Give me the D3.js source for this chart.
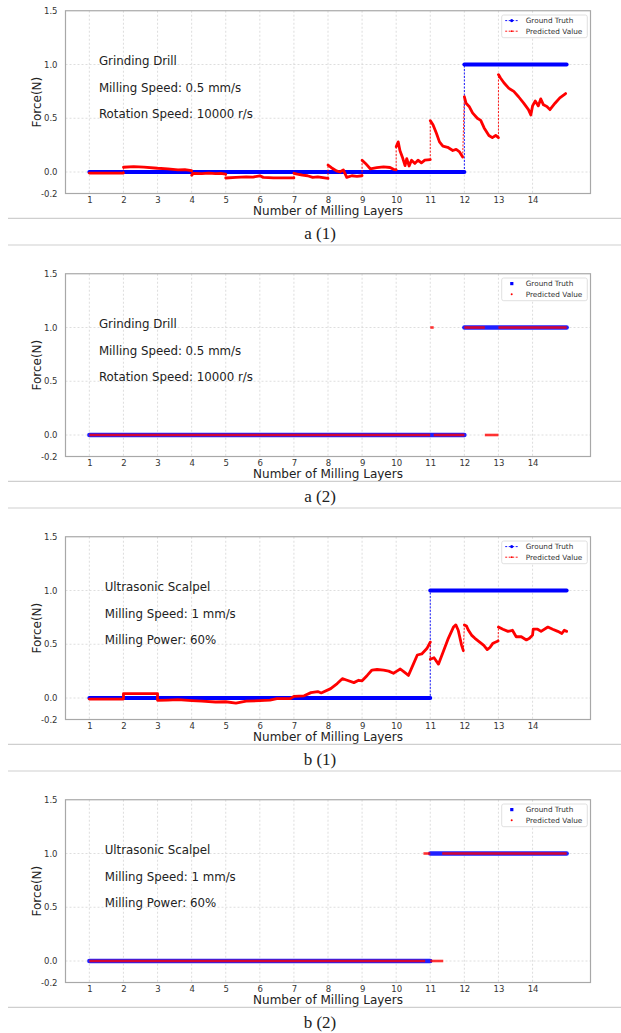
<!DOCTYPE html>
<html>
<head>
<meta charset="utf-8">
<script src="https://d3js.org/d3.v7.min.js"></script>
<style>
  body { margin: 0; background: #fff; }
  svg text { font-family: "DejaVu Sans", sans-serif; }
  svg text.caption { font-family: "Liberation Serif", "Times New Roman", serif; }
</style>
</head>
<body>
<div id="chart"></div>
<script>
// ---- data ----
const xTicks = [1, 2, 3, 4, 5, 6, 7, 8, 9, 10, 11, 12, 13, 14];
const yTicks = [-0.2, 0, 0.5, 1, 1.5];
const yTickLabels = ["-0.2", "0.0", "0.5", "1.0", "1.5"];
const captions = ["a (1)", "a (2)", "b (1)", "b (2)"];
const drillNotes = ["Grinding Drill", "Milling Speed: 0.5 mm/s", "Rotation Speed: 10000 r/s"];
const scalpelNotes = ["Ultrasonic Scalpel", "Milling Speed: 1 mm/s", "Milling Power: 60%"];
const legendLabels = ["Ground Truth", "Predicted Value"];

// ground truth runs: [from layer, to layer, force]
const a1Truth = [[1, 12, 0], [12, 15, 1]];
const b1Truth = [[1, 11, 0], [11, 15, 1]];
const a2Truth = [[1, 12, 0], [12, 15, 1]];
const b2Truth = [[1, 11, 0], [11, 15, 1]];

// predicted force, one piece per milling layer block: [layer, force]
const a1Pred = [
  [[1, -0.01], [2, -0.01]],
  [[2, 0.044], [2.3, 0.05], [2.6, 0.045], [3, 0.035], [3.3, 0.03], [3.6, 0.02], [3.8, 0.022], [4, 0.012]],
  [[4, -0.03], [4.05, -0.012], [4.3, -0.015], [4.5, -0.01], [4.7, -0.015], [4.85, -0.012], [5, -0.02]],
  [[5, -0.056], [5.3, -0.05], [5.6, -0.045], [5.8, -0.047], [6, -0.035], [6.1, -0.05], [6.4, -0.055], [7, -0.055]],
  [[7, -0.012], [7.1, -0.02], [7.25, -0.03], [7.4, -0.035], [7.55, -0.05], [7.7, -0.045], [7.8, -0.05], [8, -0.06]],
  [[8, 0.065], [8.1, 0.04], [8.25, 0.01], [8.35, 0], [8.45, 0.02], [8.55, -0.05], [8.7, -0.035], [8.85, -0.04], [9, -0.035]],
  [[9, 0.11], [9.1, 0.08], [9.24, 0.03], [9.43, 0.04], [9.63, 0.047], [9.82, 0.042], [9.92, 0.025], [10, 0.02]],
  [[10, 0.235], [10.06, 0.28], [10.11, 0.2], [10.18, 0.14], [10.26, 0.06], [10.31, 0.125], [10.38, 0.056], [10.45, 0.11],
   [10.55, 0.08], [10.64, 0.11], [10.74, 0.085], [10.84, 0.11], [11, 0.115]],
  [[11, 0.478], [11.08, 0.44], [11.18, 0.36], [11.27, 0.28], [11.37, 0.24], [11.51, 0.23], [11.66, 0.2], [11.76, 0.21],
   [11.85, 0.19], [11.95, 0.14]],
  [[12, 0.7], [12.05, 0.64], [12.14, 0.61], [12.24, 0.55], [12.38, 0.5], [12.48, 0.48], [12.58, 0.41], [12.72, 0.34],
   [12.82, 0.32], [12.92, 0.34], [13, 0.32]],
  [[13, 0.906], [13.06, 0.875], [13.16, 0.83], [13.3, 0.78], [13.45, 0.75], [13.59, 0.7], [13.74, 0.64], [13.88, 0.58],
   [13.95, 0.53], [14, 0.615], [14.08, 0.66], [14.17, 0.615], [14.24, 0.68], [14.32, 0.625], [14.42, 0.61], [14.51, 0.58],
   [14.66, 0.64], [14.8, 0.69], [14.97, 0.73]]
];

const b1Pred = [
  [[1, -0.01], [2, -0.01], [2, 0.04], [3, 0.04], [3, -0.022], [3.3, -0.02], [3.6, -0.016], [4, -0.025], [4.3, -0.03],
   [4.7, -0.037], [5, -0.035], [5.3, -0.047], [5.6, -0.03], [6, -0.025], [6.3, -0.02], [6.5, -0.006], [6.9, -0.005],
   [7, 0.015], [7.3, 0.02], [7.5, 0.05], [7.7, 0.06], [7.8, 0.047], [8.08, 0.087], [8.27, 0.134], [8.42, 0.18],
   [8.56, 0.165], [8.76, 0.143], [8.9, 0.165], [9, 0.16], [9.15, 0.21], [9.29, 0.26], [9.44, 0.265], [9.63, 0.26],
   [9.78, 0.25], [9.92, 0.23], [10.02, 0.25], [10.12, 0.27], [10.24, 0.24], [10.36, 0.21], [10.51, 0.32], [10.62, 0.4],
   [10.75, 0.41], [10.9, 0.46], [11, 0.52]],
  [[11, 0.36], [11.11, 0.375], [11.24, 0.315], [11.38, 0.43], [11.53, 0.555], [11.68, 0.66], [11.75, 0.68], [11.82, 0.63],
   [11.92, 0.49], [11.97, 0.44]],
  [[12, 0.68], [12.06, 0.67], [12.12, 0.63], [12.21, 0.585], [12.31, 0.555], [12.45, 0.52], [12.57, 0.49], [12.67, 0.45],
   [12.75, 0.47], [12.84, 0.51], [12.99, 0.53]],
  [[13, 0.66], [13.13, 0.64], [13.28, 0.62], [13.41, 0.63], [13.52, 0.57], [13.67, 0.57], [13.82, 0.54], [13.91, 0.555],
   [14, 0.585], [14.02, 0.64], [14.15, 0.64], [14.25, 0.62], [14.45, 0.66], [14.59, 0.64], [14.74, 0.62], [14.86, 0.6],
   [14.93, 0.63], [15, 0.62]]
];

// classified (scatter) predictions: [from layer, to layer, force]
const a2Pred = [[1, 11, 0], [11, 11.1, 1], [11.1, 12, 0], [12, 12.6, 1], [12.6, 13, 0], [13, 15, 1]];
const b2Pred = [[1, 10.85, 0], [10.8, 11, 1], [11, 11.38, 0], [11.35, 15, 1]];

// ---- layout ----
const W = 621, H = 1033, panelH = 263;
const svg = d3.select("#chart").append("svg").attr("width", W).attr("height", H);

const x = d3.scaleLinear().domain([0.3, 15.7]).range([65.5, 590.5]);
const y = d3.scaleLinear().domain([-0.2, 1.5]).range([193.5, 10.75]);
const line = d3.line().x(d => x(d[0])).y(d => y(d[1]));

const panels = [
  { kind: "line", truth: a1Truth, pred: a1Pred, notes: drillNotes, noteX: 1.28 },
  { kind: "dots", truth: a2Truth, pred: a2Pred, notes: drillNotes, noteX: 1.28 },
  { kind: "line", truth: b1Truth, pred: b1Pred, notes: scalpelNotes, noteX: 1.45 },
  { kind: "dots", truth: b2Truth, pred: b2Pred, notes: scalpelNotes, noteX: 1.45 }
];

panels.forEach((p, i) => {
  const g = svg.append("g").attr("transform", `translate(0,${i * panelH})`);

  // grid
  g.append("g").selectAll("line").data(xTicks).join("line")
    .attr("x1", d => x(d)).attr("x2", d => x(d))
    .attr("y1", y(1.5)).attr("y2", y(-0.2))
    .attr("stroke", "#d6d6d6").attr("stroke-width", 0.8).attr("stroke-dasharray", "2,2");
  g.append("g").selectAll("line").data(yTicks.filter(v => v > -0.2 && v < 1.5)).join("line")
    .attr("x1", x(0.3)).attr("x2", x(15.7))
    .attr("y1", d => y(d)).attr("y2", d => y(d))
    .attr("stroke", "#d6d6d6").attr("stroke-width", 0.8).attr("stroke-dasharray", "2,2");

  // axes
  const xa = g.append("g").attr("transform", `translate(0,${y(-0.2)})`)
    .call(d3.axisBottom(x).tickValues(xTicks).tickSize(0).tickPadding(3));
  const ya = g.append("g").attr("transform", `translate(${x(0.3)},0)`)
    .call(d3.axisLeft(y).tickValues(yTicks).tickFormat((d, k) => yTickLabels[k]).tickSize(0).tickPadding(8));
  [xa, ya].forEach(a => {
    a.select(".domain").remove();
    a.selectAll("text").attr("font-size", 8.5).attr("fill", "#333");
  });

  // frame
  g.append("rect").attr("x", x(0.3)).attr("y", y(1.5))
    .attr("width", x(15.7) - x(0.3)).attr("height", y(-0.2) - y(1.5))
    .attr("fill", "none").attr("stroke", "#a8a8a8").attr("stroke-width", 1.2);

  // labels
  g.append("text").attr("x", (x(0.3) + x(15.7)) / 2).attr("y", 215)
    .attr("text-anchor", "middle").attr("font-size", 12).attr("fill", "#222")
    .text("Number of Milling Layers");
  g.append("text").attr("transform", `translate(41,${(y(1.5) + y(-0.2)) / 2}) rotate(-90)`)
    .attr("text-anchor", "middle").attr("font-size", 12).attr("fill", "#222")
    .text("Force(N)");

  // notes
  g.append("g").selectAll("text").data(p.notes).join("text")
    .attr("x", x(p.noteX)).attr("y", (d, k) => 61 + k * 26.5).attr("dy", "0.35em")
    .attr("font-size", 11.8).attr("fill", "#222").text(d => d);

  if (p.kind === "line") {
    // ground truth: thin dashed link + dense blue markers
    const tPts = [];
    p.truth.forEach(r => { tPts.push([r[0], r[2]], [r[1], r[2]]); });
    g.append("path").attr("d", line(tPts)).attr("fill", "none")
      .attr("stroke", "#0000ff").attr("stroke-width", 0.9).attr("stroke-dasharray", "2,1.5");
    g.append("g").selectAll("path").data(p.truth).join("path")
      .attr("d", r => line([[r[0], r[2]], [r[1], r[2]]]))
      .attr("stroke", "#0000ff").attr("stroke-width", 4).attr("stroke-linecap", "round");

    // predicted: dashed links between blocks + dense red markers
    const links = [];
    for (let k = 1; k < p.pred.length; k++) {
      const a = p.pred[k - 1], b = p.pred[k];
      links.push([a[a.length - 1], b[0]]);
    }
    g.append("g").selectAll("path").data(links).join("path")
      .attr("d", line).attr("fill", "none")
      .attr("stroke", "#ff0000").attr("stroke-width", 0.9).attr("stroke-dasharray", "2,1.5");
    g.append("g").selectAll("path").data(p.pred).join("path")
      .attr("d", line).attr("fill", "none")
      .attr("stroke", "#ff0000").attr("stroke-width", 2.8)
      .attr("stroke-linejoin", "round").attr("stroke-linecap", "round");
  } else {
    g.append("g").selectAll("path").data(p.truth).join("path")
      .attr("d", r => line([[r[0], r[2]], [r[1], r[2]]]))
      .attr("stroke", "#2020ff").attr("stroke-width", 4.5).attr("stroke-linecap", "round");
    g.append("g").selectAll("path").data(p.pred).join("path")
      .attr("d", r => line([[r[0], r[2]], [r[1], r[2]]]))
      .attr("stroke", "#ff0000").attr("stroke-opacity", 0.8).attr("stroke-width", 2.6);
  }

  // legend
  const lg = g.append("g").attr("transform", "translate(501.7,15)");
  lg.append("rect").attr("width", 85.6).attr("height", 22.7).attr("rx", 2)
    .attr("fill", "#fff").attr("stroke", "#d8d8d8").attr("stroke-width", 0.8);
  const colors = ["#0000ff", "#ff0000"];
  legendLabels.forEach((lab, k) => {
    const cy = 5.6 + k * 10.6;
    if (p.kind === "line") {
      lg.append("line").attr("x1", 3.5).attr("x2", 16.5).attr("y1", cy).attr("y2", cy)
        .attr("stroke", colors[k]).attr("stroke-width", 0.9).attr("stroke-dasharray", "2,1.5");
      lg.append("circle").attr("cx", 10).attr("cy", cy).attr("r", k === 0 ? 1.6 : 0.9).attr("fill", colors[k]);
    } else if (k === 0) {
      lg.append("rect").attr("x", 8.5).attr("y", cy - 1.6).attr("width", 3.2).attr("height", 3.2).attr("fill", colors[k]);
    } else {
      lg.append("circle").attr("cx", 10).attr("cy", cy).attr("r", 1).attr("fill", colors[k]);
    }
    lg.append("text").attr("x", 24).attr("y", cy).attr("dy", "0.35em")
      .attr("font-size", 7.3).attr("fill", "#333").text(lab);
  });

  // caption block
  [218.3, 245].forEach(yy => {
    g.append("line").attr("x1", 8).attr("x2", W).attr("y1", yy).attr("y2", yy)
      .attr("stroke", "#cfcfcf").attr("stroke-width", 1.2);
  });
  g.append("text").attr("class", "caption").attr("x", 320).attr("y", 239).attr("text-anchor", "middle")
    .attr("font-size", 17).attr("fill", "#222").text(captions[i]);
});
</script>
</body>
</html>
